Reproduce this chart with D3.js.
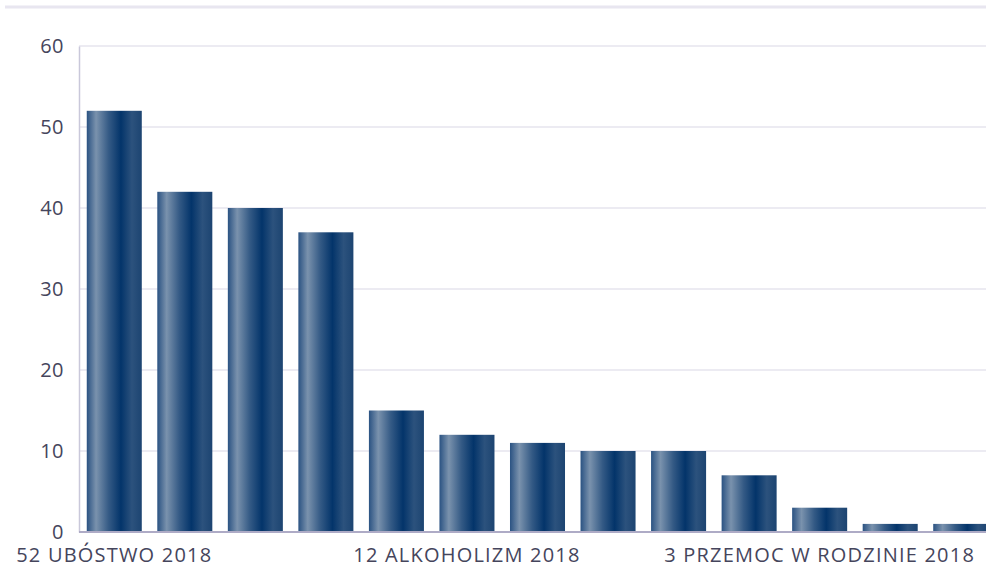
<!DOCTYPE html>
<html>
<head>
<meta charset="utf-8">
<script src="https://cdn.jsdelivr.net/npm/d3@7"></script>
<style>
  body { margin: 0; background: #fff; overflow: hidden; }
  text { font-family: "Open Sans", "Noto Sans", sans-serif; fill: #45455c; }
</style>
</head>
<body>
<div id="chart"></div>
<script>
// Data
const categories = [
  '52 UBÓSTWO 2018', '42 BEZROBOCIE 2018', '40 DŁUGOTRWAŁA CHOROBA 2018',
  '37 NIEPEŁNOSPRAWNOŚĆ 2018', '15 BEZRADNOŚĆ 2018', '12 ALKOHOLIZM 2018',
  '11 POTRZEBA OCHRONY MACIERZYŃSTWA 2018', '10 WIELODZIETNOŚĆ 2018',
  '10 RODZINA NIEPEŁNA 2018', '7 TRUDNOŚCI PO ZWOLNIENIU Z ZAKŁADU KARNEGO 2018',
  '3 PRZEMOC W RODZINIE 2018', '1 BEZDOMNOŚĆ 2018', '1 NARKOMANIA 2018'
]
const values = [52, 42, 40, 37, 15, 12, 11, 10, 10, 7, 3, 1, 1]
const shownLabels = [0, 5, 10]
const yTicks = [0, 10, 20, 30, 40, 50, 60]

const width = 986, height = 569
const mLeft = 79, mTop = 46, mBottom = 532

let svg = d3.select('#chart').append('svg')
    .attr('width', width)
    .attr('height', height)

// Bar gradient
let grad = svg.append('defs').append('linearGradient')
    .attr('id', 'barGrad')
    .attr('x1', '0%').attr('x2', '100%')
    .attr('y1', '0%').attr('y2', '0%')
const stops = [
  [0, '#2a5282'], [0.17, '#7a92ad'], [0.4, '#345a85'],
  [0.62, '#03346a'], [0.82, '#2c527d'], [1, '#1c4471']
]
grad.selectAll('stop')
    .data(stops)
    .join('stop')
    .attr('offset', d => d[0])
    .attr('stop-color', d => d[1])

// Scales
let x = d3.scaleBand()
    .domain(categories)
    .range([mLeft, 996])
    .paddingInner(0.22)
    .paddingOuter(0.11)

let y = d3.scaleLinear()
    .domain([0, 60])
    .range([mBottom, mTop])

// Top border line
svg.append('line')
    .attr('x1', 5).attr('x2', width)
    .attr('y1', 7).attr('y2', 7)
    .style('stroke', '#e8e6f0')
    .style('stroke-width', 3)

// Gridlines
svg.append('g').selectAll('line')
    .data(yTicks.filter(d => d > 0))
    .join('line')
    .attr('x1', mLeft).attr('x2', width)
    .attr('y1', d => y(d)).attr('y2', d => y(d))
    .style('stroke', '#e6e5ee')
    .style('stroke-width', 1.5)

// Y axis
let yAxis = svg.append('g')
    .attr('transform', `translate(${mLeft},0)`)
    .call(d3.axisLeft(y).tickValues(yTicks).tickSize(0).tickPadding(15))
yAxis.select('.domain')
    .style('stroke', '#c9c8da')
    .style('stroke-width', 1.5)
yAxis.selectAll('text')
    .style('font-size', '20px')
    .style('letter-spacing', '0.5px')
    .style('fill', '#45455c')

// Bars
svg.append('g').selectAll('rect')
    .data(values)
    .join('rect')
    .attr('x', (d, i) => x(categories[i]))
    .attr('y', d => y(d))
    .attr('width', x.bandwidth())
    .attr('height', d => mBottom - y(d))
    .style('fill', 'url(#barGrad)')

// X axis
let xAxis = svg.append('g')
    .attr('transform', `translate(0,${mBottom})`)
    .call(d3.axisBottom(x).tickSize(0).tickPadding(16)
        .tickFormat((d, i) => shownLabels.includes(i) ? d : ''))
xAxis.select('.domain')
    .attr('d', `M${mLeft},0H${width}`)
    .style('stroke', '#aeabc6')
    .style('stroke-width', 2)
xAxis.selectAll('text')
    .style('font-size', '20px')
    .style('letter-spacing', '1.2px')
    .style('fill', '#45455c')
</script>
</body>
</html>
